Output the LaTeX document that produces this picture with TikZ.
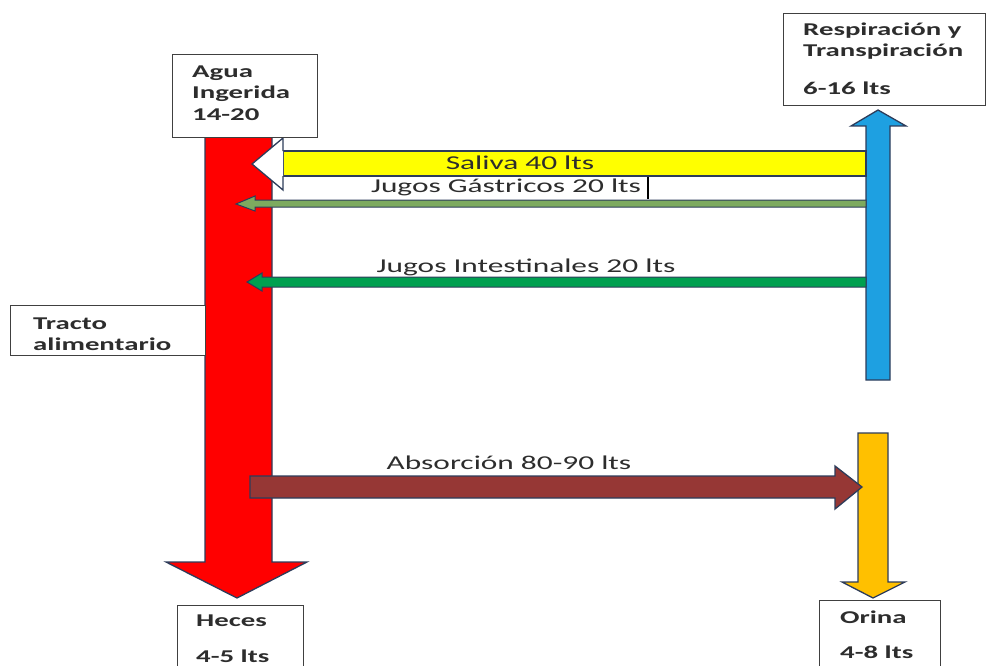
\documentclass[tikz,border=0pt]{standalone}
\usepackage{fontspec}
\newfontfamily\cf[FakeStretch=1.6]{Carlito}
\definecolor{outl}{RGB}{45,60,90}
\definecolor{txt}{RGB}{45,45,45}
\definecolor{redA}{RGB}{255,0,0}
\definecolor{yelA}{RGB}{255,255,0}
\definecolor{bluA}{RGB}{30,160,225}
\definecolor{oraA}{RGB}{255,192,0}
\definecolor{broA}{RGB}{150,55,53}
\definecolor{grnA}{RGB}{125,170,95}
\definecolor{grnB}{RGB}{0,160,80}
\tikzset{
  boxn/.style={draw=black!75,line width=1.1pt,fill=white},
  boxt/.style={anchor=west,inner sep=0pt,text=txt,font=\cf\bfseries\fontsize{18}{21.5}\selectfont,align=left},
  lab/.style={inner sep=0pt,text=txt,font=\cf\fontsize{19.6}{22}\selectfont},
  blk/.style={draw=outl,line width=1.3pt,line join=miter}
}
\begin{document}
\begin{tikzpicture}[x=1pt,y=-1pt]
\useasboundingbox (0,0) rectangle (987,666);
% red main arrow
\filldraw[blk,fill=redA] (205,137) -- (205,562) -- (166,562) -- (237,598) -- (307,562) -- (272,562) -- (272,137) -- cycle;
% blue arrow
\filldraw[blk,fill=bluA] (866,380) -- (866,126) -- (851,126) -- (878,110) -- (906,126) -- (890,126) -- (890,380) -- cycle;
% yellow saliva arrow
\filldraw[blk,fill=yelA] (283,151) rectangle (866,176);
\filldraw[blk,fill=white] (283,176) -- (283,190) -- (252,164) -- (283,138) -- (283,151);
% green 1
\filldraw[blk,line width=1pt,fill=grnA] (866,200) -- (255,200) -- (255,196) -- (236,204) -- (255,211) -- (255,207) -- (866,207) -- cycle;
% green 2
\filldraw[blk,line width=1pt,fill=grnB] (866,277) -- (262,277) -- (262,273) -- (247,282) -- (262,291) -- (262,287) -- (866,287) -- cycle;
% orange arrow
\filldraw[blk,fill=oraA] (858,433) -- (858,582) -- (842,582) -- (873,598) -- (905,582) -- (888,582) -- (888,433) -- cycle;
% brown absorption arrow
\filldraw[blk,fill=broA] (250,476) -- (835,476) -- (835,466) -- (862,487) -- (835,509) -- (835,498) -- (250,498) -- cycle;
% boxes
\node[boxn,minimum width=145pt,minimum height=83pt,anchor=north west] (agua) at (172,54) {};
\node[boxt] (aguat) at (192,93) {Agua\\Ingerida\\14-20};
\node[boxn,minimum width=202pt,minimum height=92pt,anchor=north west] (resp) at (783,13) {};
\node[boxt] (respt) at (803,41) {Respiración y\\Transpiración};
\node[boxt] (respn) at (803,88) {6-16 lts};
\node[boxn,minimum width=195pt,minimum height=50pt,anchor=north west] (tracto) at (10,305) {};
\node[boxt] (tractot) at (33,334) {Tracto\\alimentario};
\node[boxn,minimum width=126pt,minimum height=70pt,anchor=north west] (heces) at (177,605) {};
\node[boxt] (heces1) at (196,621) {Heces};
\node[boxt] (heces2) at (196,656) {4-5 lts};
\node[boxn,minimum width=121pt,minimum height=75pt,anchor=north west] (orina) at (819,600) {};
\node[boxt] (orina1) at (840,617) {Orina};
\node[boxt] (orina2) at (840,652) {4-8 lts};
% labels
\node[lab] (sal) at (520,163) {Saliva 40 lts};
\node[lab] (jg) at (506,187) {Jugos Gástricos 20 lts};
\coordinate (cur1) at (648,177);
\coordinate (cur2) at (648,199);
\draw[black,line width=1.2pt] (cur1) -- (cur2);
\node[lab] (ji) at (526,267) {Jugos Intestinales 20 lts};
\node[lab] (ab) at (509,463) {Absorción 80-90 lts};
\end{tikzpicture}
\end{document}
